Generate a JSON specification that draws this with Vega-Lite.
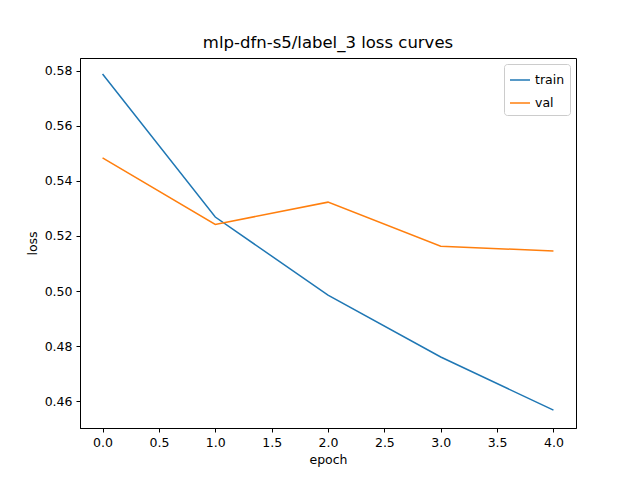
{
  "$schema": "https://vega.github.io/schema/vega-lite/v6.json",
  "width": 496,
  "height": 370,
  "autosize": {"type": "none"},
  "padding": {"left": 80, "top": 58, "right": 64, "bottom": 52},
  "background": "white",
  "title": {"text": "mlp-dfn-s5/label_3 loss curves", "font": "DejaVu Sans", "fontSize": 16.5, "fontWeight": "normal", "offset": 7},
  "config": {
    "font": "DejaVu Sans",
    "view": {"stroke": "black", "strokeWidth": 1},
    "axis": {"grid": false, "domainColor": "black", "tickColor": "black", "labelColor": "black", "titleColor": "black", "labelFontSize": 12.5, "titleFontSize": 12.5, "titleFontWeight": "normal", "tickSize": 4, "labelPadding": 4, "titlePadding": 5}
  },
  "data": {"values": [
    {"epoch": 0, "loss": 0.5789, "split": "train"},
    {"epoch": 1, "loss": 0.5269, "split": "train"},
    {"epoch": 2, "loss": 0.4985, "split": "train"},
    {"epoch": 3, "loss": 0.4760, "split": "train"},
    {"epoch": 4, "loss": 0.4567, "split": "train"},
    {"epoch": 0, "loss": 0.5484, "split": "val"},
    {"epoch": 1, "loss": 0.5242, "split": "val"},
    {"epoch": 2, "loss": 0.5323, "split": "val"},
    {"epoch": 3, "loss": 0.5163, "split": "val"},
    {"epoch": 4, "loss": 0.5145, "split": "val"}
  ]},
  "mark": {"type": "line", "strokeWidth": 1.5},
  "encoding": {
    "x": {"field": "epoch", "type": "quantitative", "scale": {"domain": [-0.2, 4.2], "nice": false, "zero": false},
      "axis": {"values": [0, 0.5, 1, 1.5, 2, 2.5, 3, 3.5, 4], "format": ".1f", "title": "epoch"}},
    "y": {"field": "loss", "type": "quantitative", "scale": {"domain": [0.4502, 0.5847], "nice": false, "zero": false},
      "axis": {"values": [0.46, 0.48, 0.5, 0.52, 0.54, 0.56, 0.58], "format": ".2f", "title": "loss"}},
    "color": {"field": "split", "type": "nominal", "scale": {"domain": ["train", "val"], "range": ["#1f77b4", "#ff7f0e"]},
      "legend": {"title": null, "orient": "top-right", "symbolType": "stroke", "symbolSize": 400, "symbolStrokeWidth": 1.5, "labelFontSize": 12.5, "strokeColor": "#cccccc", "fillColor": "white", "padding": 5, "cornerRadius": 3, "offset": 6, "rowPadding": 5}}
  }
}
